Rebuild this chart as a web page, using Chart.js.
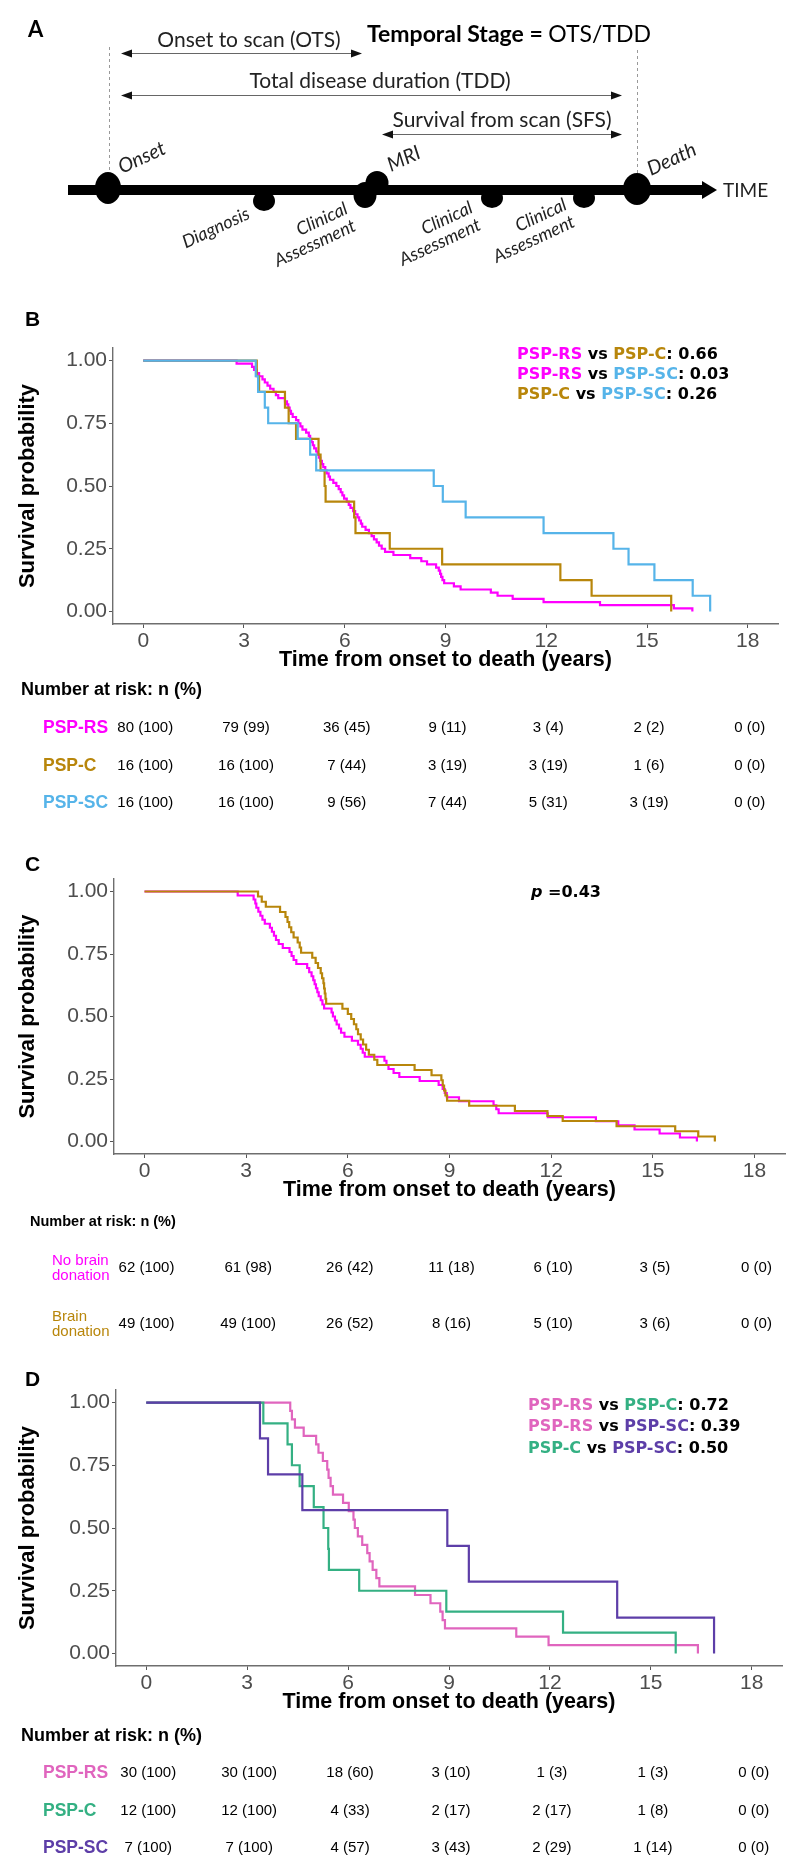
<!DOCTYPE html>
<html>
<head>
<meta charset="utf-8">
<title>PSP survival curves</title>
<script src="https://cdn.jsdelivr.net/npm/chart.js@4.4.1/dist/chart.umd.min.js"></script>
<style>
  html, body { margin: 0; padding: 0; background: #fff; }
  #page { position: relative; width: 800px; height: 1874px; overflow: hidden; background: #fff; }
  #page canvas { position: absolute; left: 0; }
</style>
</head>
<body>
<div id="page">
  <canvas id="panelA" width="800" height="300" style="top:0px"></canvas>
  <canvas id="kmB" width="800" height="530" style="top:300px"></canvas>
  <canvas id="kmC" width="800" height="505" style="top:840px"></canvas>
  <canvas id="kmD" width="800" height="519" style="top:1355px"></canvas>
</div>
<script>
// ---- data ----
const xTicks = [0, 3, 6, 9, 12, 15, 18];
const yTicks = [0, 0.25, 0.5, 0.75, 1];
const yTickLabels = ['0.00', '0.25', '0.50', '0.75', '1.00'];

// panel B: PSP-RS / PSP-C / PSP-SC
const bTimeRS = [0, 2.78, 3.24, 3.30, 3.38, 3.45, 3.55, 3.62, 3.70, 3.78, 3.88, 3.95, 4.02, 4.22, 4.28, 4.32, 4.36, 4.40, 4.45, 4.55,
  4.62, 4.68, 4.74, 4.85, 4.93, 4.97, 5.01, 5.05, 5.09, 5.15, 5.19, 5.23, 5.27, 5.32, 5.36, 5.42, 5.46, 5.52, 5.56, 5.66,
  5.75, 5.82, 5.88, 5.93, 5.98, 6.06, 6.12, 6.17, 6.25, 6.31, 6.38, 6.43, 6.48, 6.52, 6.62, 6.72, 6.80, 6.87, 6.95, 7.02,
  7.10, 7.20, 7.45, 7.95, 8.28, 8.45, 8.72, 8.80, 8.84, 8.87, 8.91, 8.96, 9.25, 9.45, 10.35, 10.55, 11.00, 11.92, 13.60, 15.80, 16.35];
const bSurvRS = [1, 0.9875, 0.975, 0.9625, 0.95, 0.9375, 0.925, 0.9125, 0.9, 0.8875, 0.875, 0.8625, 0.85, 0.8375, 0.825, 0.8125, 0.8, 0.7875, 0.775, 0.7625,
  0.75, 0.7375, 0.725, 0.7125, 0.7, 0.6875, 0.675, 0.6625, 0.65, 0.6375, 0.625, 0.6125, 0.6, 0.5875, 0.575, 0.5625, 0.55, 0.5375, 0.525, 0.5125,
  0.5, 0.4875, 0.475, 0.4625, 0.45, 0.4375, 0.425, 0.4125, 0.4, 0.3875, 0.375, 0.3625, 0.35, 0.3375, 0.325, 0.3125, 0.3, 0.2875, 0.275, 0.2625,
  0.25, 0.2375, 0.225, 0.2125, 0.2, 0.1875, 0.175, 0.1625, 0.15, 0.1375, 0.125, 0.1125, 0.1, 0.0875, 0.075, 0.0625, 0.05, 0.0375, 0.025, 0.0125, 0];
const bTimeC = [0, 3.38, 3.45, 4.22, 4.33, 4.55, 5.22, 5.28, 5.40, 5.43, 6.28, 6.32, 7.34, 8.90, 12.42, 13.35, 15.72];
const bSurvC = [1, 0.9375, 0.875, 0.8125, 0.75, 0.6875, 0.625, 0.5625, 0.5, 0.4375, 0.375, 0.3125, 0.25, 0.1875, 0.125, 0.0625, 0];
const bTimeSC = [0, 3.35, 3.42, 3.62, 3.72, 4.60, 4.97, 5.15, 8.65, 8.92, 9.60, 11.92, 14.00, 14.45, 15.22, 16.36, 16.88];
const bSurvSC = [1, 0.9375, 0.875, 0.8125, 0.75, 0.6875, 0.625, 0.5625, 0.5, 0.4375, 0.375, 0.3125, 0.25, 0.1875, 0.125, 0.0625, 0];
const riskB_RS = ['80 (100)', '79 (99)', '36 (45)', '9 (11)', '3 (4)', '2 (2)', '0 (0)'];
const riskB_C = ['16 (100)', '16 (100)', '7 (44)', '3 (19)', '3 (19)', '1 (6)', '0 (0)'];
const riskB_SC = ['16 (100)', '16 (100)', '9 (56)', '7 (44)', '5 (31)', '3 (19)', '0 (0)'];

// panel C: no brain donation / brain donation
const cTimeNo = [0, 2.75, 3.22, 3.27, 3.30, 3.36, 3.42, 3.48, 3.55, 3.70, 3.76, 3.82, 3.88, 3.96, 4.08, 4.28, 4.34, 4.40, 4.48, 4.80,
  4.86, 4.93, 4.98, 5.02, 5.06, 5.10, 5.14, 5.20, 5.25, 5.30, 5.52, 5.56, 5.62, 5.67, 5.74, 5.80, 5.90, 6.12, 6.30, 6.38,
  6.44, 6.50, 7.08, 7.14, 7.20, 7.35, 7.52, 8.12, 8.68, 8.80, 8.86, 8.92, 9.28, 10.30, 10.38, 10.45, 11.90, 13.32, 13.98, 14.46,
  15.20, 15.80, 16.30];
const cSurvNo = [1, 0.984, 0.968, 0.952, 0.935, 0.919, 0.903, 0.887, 0.871, 0.855, 0.839, 0.823, 0.806, 0.790, 0.774, 0.758, 0.742, 0.726, 0.710, 0.694,
  0.677, 0.661, 0.645, 0.629, 0.613, 0.597, 0.581, 0.565, 0.548, 0.532, 0.516, 0.500, 0.484, 0.468, 0.452, 0.435, 0.419, 0.403, 0.387, 0.371,
  0.355, 0.339, 0.323, 0.306, 0.290, 0.274, 0.258, 0.242, 0.226, 0.210, 0.194, 0.177, 0.161, 0.145, 0.129, 0.113, 0.097, 0.081, 0.065, 0.048,
  0.032, 0.016, 0];
const cTimeYes = [0, 3.35, 3.46, 3.58, 4.00, 4.16, 4.22, 4.27, 4.33, 4.40, 4.52, 4.58, 4.62, 4.95, 5.05, 5.12, 5.20, 5.24, 5.28, 5.30,
  5.32, 5.34, 5.36, 5.84, 6.00, 6.10, 6.18, 6.25, 6.30, 6.38, 6.45, 6.54, 6.62, 6.78, 6.87, 7.97, 8.47, 8.76, 8.80, 8.84,
  8.88, 8.93, 9.58, 10.93, 11.89, 12.34, 13.93, 15.66, 16.34, 16.83];
const cSurvYes = [1, 0.980, 0.959, 0.939, 0.918, 0.898, 0.878, 0.857, 0.837, 0.816, 0.796, 0.776, 0.755, 0.735, 0.714, 0.694, 0.673, 0.653, 0.633, 0.612,
  0.592, 0.571, 0.551, 0.531, 0.510, 0.490, 0.469, 0.449, 0.429, 0.408, 0.388, 0.367, 0.347, 0.327, 0.306, 0.286, 0.265, 0.245, 0.224, 0.204,
  0.184, 0.163, 0.143, 0.122, 0.102, 0.082, 0.061, 0.041, 0.020, 0];
const riskC_No = ['62 (100)', '61 (98)', '26 (42)', '11 (18)', '6 (10)', '3 (5)', '0 (0)'];
const riskC_Yes = ['49 (100)', '49 (100)', '26 (52)', '8 (16)', '5 (10)', '3 (6)', '0 (0)'];

// panel D: PSP-RS / PSP-C / PSP-SC (second cohort)
const dTimeRS = [0, 4.28, 4.33, 4.42, 4.68, 5.05, 5.12, 5.25, 5.38, 5.42, 5.48, 5.55, 5.85, 6.02, 6.16, 6.20, 6.29, 6.42, 6.57, 6.64,
  6.73, 6.84, 6.93, 7.99, 8.45, 8.74, 8.81, 8.88, 11.00, 11.96, 16.40];
const dSurvRS = [1, 0.967, 0.933, 0.9, 0.867, 0.833, 0.8, 0.767, 0.733, 0.7, 0.667, 0.633, 0.6, 0.567, 0.533, 0.5, 0.467, 0.433, 0.4, 0.367,
  0.333, 0.3, 0.267, 0.233, 0.2, 0.167, 0.133, 0.1, 0.067, 0.033, 0];
const dTimeC = [0, 3.48, 4.20, 4.33, 4.56, 4.98, 5.27, 5.41, 5.43, 6.33, 8.92, 12.39, 15.74];
const dSurvC = [1, 0.917, 0.833, 0.75, 0.667, 0.583, 0.5, 0.417, 0.333, 0.25, 0.167, 0.083, 0];
const dTimeSC = [0, 3.38, 3.62, 4.64, 8.95, 9.59, 14.00, 16.88];
const dSurvSC = [1, 0.857, 0.714, 0.571, 0.429, 0.286, 0.143, 0];
const riskD_RS = ['30 (100)', '30 (100)', '18 (60)', '3 (10)', '1 (3)', '1 (3)', '0 (0)'];
const riskD_C = ['12 (100)', '12 (100)', '4 (33)', '2 (17)', '2 (17)', '1 (8)', '0 (0)'];
const riskD_SC = ['7 (100)', '7 (100)', '4 (57)', '3 (43)', '2 (29)', '1 (14)', '0 (0)'];

// colours
const colRS = '#FF00FF', colC = '#B8860B', colSC = '#56B4E9';
const colRS2 = '#E065BE', colC2 = '#34B083', colSC2 = '#5D3EA8';

const SANS = '"Liberation Sans", Arial, sans-serif';
const DEJA = '"DejaVu Sans", Verdana, sans-serif';

// ---- panel A: timeline diagram ----
function drawPanelA() {
  const ctx = document.getElementById('panelA').getContext('2d');
  ctx.fillStyle = '#000';
  ctx.textBaseline = 'middle';
  ctx.font = 'bold 22px Lato';
  ctx.fillText('A', 28, 30);

  // dashed guides at onset and death
  ctx.strokeStyle = '#999';
  ctx.lineWidth = 1;
  ctx.setLineDash([3, 3]);
  ctx.beginPath();
  ctx.moveTo(109.5, 47); ctx.lineTo(109.5, 176);
  ctx.moveTo(637.5, 50); ctx.lineTo(637.5, 174);
  ctx.stroke();
  ctx.setLineDash([]);

  function span(x1, x2, y) {
    ctx.strokeStyle = '#666';
    ctx.lineWidth = 1;
    ctx.beginPath(); ctx.moveTo(x1 + 4, y + 0.5); ctx.lineTo(x2 - 4, y + 0.5); ctx.stroke();
    ctx.fillStyle = '#111';
    ctx.beginPath(); ctx.moveTo(x1, y + 0.5); ctx.lineTo(x1 + 11, y - 3.5); ctx.lineTo(x1 + 11, y + 4.5); ctx.fill();
    ctx.beginPath(); ctx.moveTo(x2, y + 0.5); ctx.lineTo(x2 - 11, y - 3.5); ctx.lineTo(x2 - 11, y + 4.5); ctx.fill();
  }
  span(121, 362, 53);
  span(121, 622, 95);
  span(382, 622, 134);

  ctx.fillStyle = '#222';
  ctx.textBaseline = 'alphabetic';
  ctx.textAlign = 'center';
  ctx.font = '21px Lato';
  ctx.fillText('Onset to scan (OTS)', 249, 47);
  ctx.fillText('Total disease duration (TDD)', 380, 88);
  ctx.fillText('Survival from scan (SFS)', 502, 127);

  ctx.textAlign = 'left';
  ctx.fillStyle = '#000';
  ctx.font = 'bold 23px Lato';
  const head = 'Temporal Stage = ';
  ctx.fillText(head, 367, 42);
  const w = ctx.measureText(head).width;
  ctx.font = '23px Lato';
  ctx.fillText('OTS/TDD', 367 + w, 42);

  // main time axis
  ctx.fillStyle = '#000';
  ctx.fillRect(68, 185, 637, 10);
  ctx.beginPath(); ctx.moveTo(702, 181); ctx.lineTo(717, 190); ctx.lineTo(702, 199); ctx.fill();
  ctx.font = '19px Lato';
  ctx.textBaseline = 'middle';
  ctx.fillStyle = '#222';
  ctx.fillText('TIME', 723, 191);

  ctx.fillStyle = '#000';
  const dots = [[108, 188, 13, 16], [264, 201, 11, 10], [365, 195, 11.5, 13], [377, 183, 11.5, 12],
    [492, 198, 11, 10], [584, 198, 11, 10], [637, 189, 14, 16]];
  dots.forEach(d => { ctx.beginPath(); ctx.ellipse(d[0], d[1], d[2], d[3], 0, 0, Math.PI * 2); ctx.fill(); });

  function tilted(lines, x, y, align, size) {
    ctx.save();
    ctx.translate(x, y);
    ctx.rotate(-25 * Math.PI / 180);
    ctx.textAlign = align;
    ctx.textBaseline = 'alphabetic';
    ctx.font = 'italic ' + size + 'px Lato';
    lines.forEach((t, i) => ctx.fillText(t, 0, i * size * 1.05));
    ctx.restore();
  }
  ctx.fillStyle = '#222';
  tilted(['Onset'], 122, 174, 'left', 20);
  tilted(['MRI'], 391, 172, 'left', 20);
  tilted(['Death'], 651, 176, 'left', 20);
  tilted(['Diagnosis'], 251, 218, 'right', 18);
  tilted(['Clinical', 'Assessment'], 349, 213, 'right', 18);
  tilted(['Clinical', 'Assessment'], 474, 212, 'right', 18);
  tilted(['Clinical', 'Assessment'], 568, 209, 'right', 18);
}

// ---- survival panels ----
const kmText = {
  id: 'kmText',
  afterDraw(chart, args, o) {
    const ctx = chart.ctx;
    const xs = chart.scales.x;
    const dy = o.canvasTop;
    ctx.save();
    ctx.textBaseline = 'middle';
    ctx.textAlign = 'left';
    ctx.fillStyle = '#000';
    ctx.font = 'bold 21px ' + SANS;
    ctx.fillText(o.letter, 25, o.letterY - dy);

    o.legend.forEach((parts, i) => {
      let cx = o.legendX;
      parts.forEach(p => {
        ctx.font = p[2] || ('bold 16px ' + DEJA);
        ctx.fillStyle = p[1];
        ctx.fillText(p[0], cx, o.legendY[i] - dy);
        cx += ctx.measureText(p[0]).width;
      });
    });

    ctx.fillStyle = '#000';
    ctx.font = 'bold ' + o.riskTitle.size + 'px ' + SANS;
    ctx.fillText('Number at risk: n (%)', o.riskTitle.x, o.riskTitle.y - dy);

    o.rows.forEach(r => {
      ctx.textAlign = 'left';
      ctx.fillStyle = r.color;
      ctx.font = o.labelFont;
      r.label.forEach((t, j) => {
        const ly = r.label.length === 1 ? r.y : r.y + (j - 0.5) * o.labelLine;
        ctx.fillText(t, o.labelX, ly - dy);
      });
      ctx.textAlign = 'center';
      ctx.fillStyle = '#000';
      ctx.font = '15px ' + SANS;
      r.values.forEach((v, i) => ctx.fillText(v, xs.getPixelForValue(xTicks[i]) + 2, r.y - dy));
    });
    ctx.restore();
  }
};

function kmChart(id, o) {
  const curves = o.curves.map(c => ({
    data: c.t.map((t, i) => ({ x: t, y: c.s[i] })),
    borderColor: c.color,
    borderWidth: 2.2,
    pointRadius: 0,
    fill: false,
    stepped: true
  }));
  const xTitleSize = 21.5, yTitleSize = 22;
  const titleLH = xTitleSize * 1.2;
  return new Chart(document.getElementById(id), {
    type: 'line',
    data: { datasets: curves },
    options: {
      responsive: false,
      animation: false,
      layout: {
        padding: {
          top: o.area.top - o.canvasTop,
          right: 800 - o.area.right,
          bottom: o.canvasTop + o.canvasH - (o.titleY + titleLH / 2),
          left: 0
        }
      },
      plugins: { legend: { display: false }, tooltip: { enabled: false }, kmText: o },
      scales: {
        x: {
          type: 'linear', min: -0.9, max: 18.9,
          afterBuildTicks: s => { s.ticks = xTicks.map(v => ({ value: v })); },
          afterFit: s => { s.height = o.titleY + titleLH / 2 - o.area.bottom; },
          ticks: { color: '#4d4d4d', font: { family: SANS, size: 21 }, padding: 1, maxRotation: 0 },
          grid: { display: true, drawOnChartArea: false, drawTicks: true, tickLength: 4, color: '#555' },
          border: { display: true, color: '#6e6e6e', width: 1.4 },
          title: { display: true, text: 'Time from onset to death (years)', color: '#000',
            font: { family: SANS, size: xTitleSize, weight: 'bold' }, padding: { top: 0, bottom: 0 } }
        },
        y: {
          type: 'linear', min: -0.05, max: 1.05,
          afterBuildTicks: s => { s.ticks = yTicks.map(v => ({ value: v })); },
          afterFit: s => { s.width = o.area.left; },
          ticks: { color: '#4d4d4d', font: { family: SANS, size: 21 }, padding: 2,
            callback: v => yTickLabels[yTicks.indexOf(v)] },
          grid: { display: true, drawOnChartArea: false, drawTicks: true, tickLength: 4, color: '#555' },
          border: { display: true, color: '#6e6e6e', width: 1.4 },
          title: { display: true, text: 'Survival probability', color: '#000',
            font: { family: SANS, size: yTitleSize, weight: 'bold' }, padding: { top: 15, bottom: 0 } }
        }
      }
    },
    plugins: [kmText]
  });
}

drawPanelA();

kmChart('kmB', {
  canvasTop: 300, canvasH: 530,
  area: { left: 113, right: 778, top: 348, bottom: 624 }, titleY: 660,
  letter: 'B', letterY: 320,
  curves: [
    { t: bTimeSC, s: bSurvSC, color: colSC },
    { t: bTimeC, s: bSurvC, color: colC },
    { t: bTimeRS, s: bSurvRS, color: colRS }
  ],
  legendX: 517, legendY: [355, 375, 395],
  legend: [
    [['PSP-RS', colRS], [' vs ', '#000'], ['PSP-C', colC], [': 0.66', '#000']],
    [['PSP-RS', colRS], [' vs ', '#000'], ['PSP-SC', colSC], [': 0.03', '#000']],
    [['PSP-C', colC], [' vs ', '#000'], ['PSP-SC', colSC], [': 0.26', '#000']]
  ],
  riskTitle: { x: 21, y: 690, size: 18 },
  labelX: 43, labelFont: 'bold 17.5px ' + SANS, labelLine: 15,
  rows: [
    { label: ['PSP-RS'], color: colRS, y: 728, values: riskB_RS },
    { label: ['PSP-C'], color: colC, y: 766, values: riskB_C },
    { label: ['PSP-SC'], color: colSC, y: 803, values: riskB_SC }
  ]
});

kmChart('kmC', {
  canvasTop: 840, canvasH: 505,
  area: { left: 114, right: 785, top: 879, bottom: 1154 }, titleY: 1190,
  letter: 'C', letterY: 865,
  curves: [
    { t: cTimeYes, s: cSurvYes, color: colC },
    { t: cTimeNo, s: cSurvNo, color: colRS }
  ],
  legendX: 531, legendY: [893],
  legend: [
    [['p', '#000', 'bold italic 16px ' + DEJA], [' =0.43', '#000']]
  ],
  riskTitle: { x: 30, y: 1222, size: 14.5 },
  labelX: 52, labelFont: '15px ' + SANS, labelLine: 15,
  rows: [
    { label: ['No brain', 'donation'], color: colRS, y: 1268, values: riskC_No },
    { label: ['Brain', 'donation'], color: colC, y: 1324, values: riskC_Yes }
  ]
});

kmChart('kmD', {
  canvasTop: 1355, canvasH: 519,
  area: { left: 116, right: 782, top: 1390, bottom: 1666 }, titleY: 1702,
  letter: 'D', letterY: 1380,
  curves: [
    { t: dTimeSC, s: dSurvSC, color: colSC2 },
    { t: dTimeC, s: dSurvC, color: colC2 },
    { t: dTimeRS, s: dSurvRS, color: colRS2 }
  ],
  legendX: 528, legendY: [1406, 1427, 1449],
  legend: [
    [['PSP-RS', colRS2], [' vs ', '#000'], ['PSP-C', colC2], [': 0.72', '#000']],
    [['PSP-RS', colRS2], [' vs ', '#000'], ['PSP-SC', colSC2], [': 0.39', '#000']],
    [['PSP-C', colC2], [' vs ', '#000'], ['PSP-SC', colSC2], [': 0.50', '#000']]
  ],
  riskTitle: { x: 21, y: 1736, size: 18 },
  labelX: 43, labelFont: 'bold 17.5px ' + SANS, labelLine: 15,
  rows: [
    { label: ['PSP-RS'], color: colRS2, y: 1773, values: riskD_RS },
    { label: ['PSP-C'], color: colC2, y: 1811, values: riskD_C },
    { label: ['PSP-SC'], color: colSC2, y: 1848, values: riskD_SC }
  ]
});
</script>
</body>
</html>
